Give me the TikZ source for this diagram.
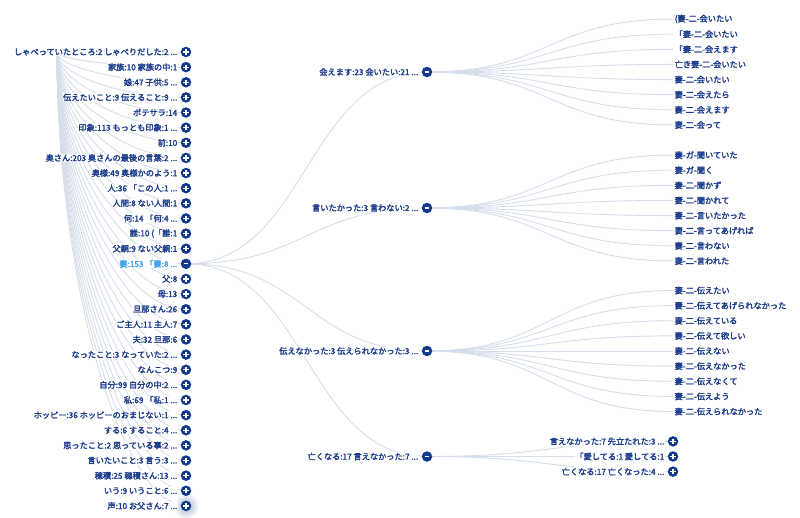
\documentclass[tikz,border=0pt]{standalone}
\usepackage{fontspec}
\setmainfont{Noto Sans CJK JP}[AutoFakeBold=2.4]
\usetikzlibrary{backgrounds}
\definecolor{navy}{HTML}{123A8C}
\definecolor{txt}{HTML}{1C3D8E}
\definecolor{hl}{HTML}{3FA2E8}
\definecolor{lnk}{HTML}{D6DEEB}
\newcommand\mydots{...}
\begin{document}
\begin{tikzpicture}[x=1pt,y=-1pt,
  font=\bfseries\fontsize{8.2}{9}\selectfont,
  nd/.style={circle, fill=navy, minimum size=10.5pt, inner sep=0pt},
  plusnd/.style={nd, path picture={\draw[white,line width=1.2pt]
      ([xshift=-2.6pt]path picture bounding box.center) -- ([xshift=2.6pt]path picture bounding box.center)
      ([yshift=-2.6pt]path picture bounding box.center) -- ([yshift=2.6pt]path picture bounding box.center);}},
  minusnd/.style={nd, path picture={\draw[white,line width=1.2pt]
      ([xshift=-2.4pt]path picture bounding box.center) -- ([xshift=2.4pt]path picture bounding box.center);}},
  lbl/.style={text=txt, fill=white, inner sep=0.6pt, anchor=east},
  leaf/.style={text=txt, inner sep=1.5pt, anchor=west},
  link/.style={draw=lnk, line width=0.9pt}]
\useasboundingbox (0,0) rectangle (800,517);
\coordinate (root) at (57,52);
% left column
\foreach \t [count=\i] in {
  {しゃべっていたところ:2 しゃべりだした:2 \mydots},
  {家族:10 家族の中:1},
  {娘:47 子供:5 \mydots},
  {伝えたいこと:9 伝えること:9 \mydots},
  {ポテサラ:14},
  {印象:113 もっとも印象:1 \mydots},
  {前:10},
  {奥さん:203 奥さんの最後の言葉:2 \mydots},
  {奥様:49 奥様かのよう:1},
  {人:36 「この人:1 \mydots},
  {人間:8 ない人間:1},
  {何:14 「何:4 \mydots},
  {誰:10 (「誰:1},
  {父親:9 ない父親:1},
  {妻:153 「妻:8 \mydots},
  {父:8},
  {母:13},
  {旦那さん:26},
  {ご主人:11 主人:7},
  {夫:32 旦那:6},
  {なったこと:3 なっていた:2 \mydots},
  {なんこつ:9},
  {自分:99 自分の中:2 \mydots},
  {私:69 「私:1 \mydots},
  {ホッピー:36 ホッピーのおまじない:1 \mydots},
  {する:6 すること:4 \mydots},
  {思ったこと:2 思っている事:2 \mydots},
  {言いたいこと:3 言う:3 \mydots},
  {穂積:25 穂積さん:13 \mydots},
  {いう:9 いうこと:6 \mydots},
  {声:10 お父さん:7 \mydots}} {
  \pgfmathsetmacro\yy{52+(\i-1)*15.13}
  \ifnum\i=15
    \node[minusnd] (l\i) at (186,\yy) {};
    \node[lbl, text=hl] at ([xshift=-2.5pt]l\i.west) {\t};
  \else
    \node[plusnd] (l\i) at (186,\yy) {};
    \node[lbl] at ([xshift=-2.5pt]l\i.west) {\t};
  \fi
}
% middle column
\node[minusnd] (m1) at (427,72) {};
\node[lbl] at ([xshift=-2.5pt]m1.west) {会えます:23 会いたい:21 ...};
\node[minusnd] (m2) at (427,208) {};
\node[lbl] at ([xshift=-2.5pt]m2.west) {言いたかった:3 言わない:2 ...};
\node[minusnd] (m3) at (427,351) {};
\node[lbl] at ([xshift=-2.5pt]m3.west) {伝えなかった:3 伝えられなかった:3 ...};
\node[minusnd] (m4) at (427,456.5) {};
\node[lbl] at ([xshift=-2.5pt]m4.west) {亡くなる:17 言えなかった:7 ...};
% leaves
\foreach \t [count=\i] in {{(妻-二-会いたい}, {「妻-二-会いたい}, {「妻-二-会えます}, {亡き妻-二-会いたい},
  {妻-二-会いたい}, {妻-二-会えたら}, {妻-二-会えます}, {妻-二-会って}} {
  \pgfmathsetmacro\yy{72+(\i-4.5)*15.13}
  \node[leaf] (a\i) at (673,\yy) {\t};
}
\foreach \t [count=\i] in {{妻-ガ-聞いていた}, {妻-ガ-聞く}, {妻-二-聞かず}, {妻-二-聞かれて},
  {妻-二-言いたかった}, {妻-二-言ってあげれば}, {妻-二-言わない}, {妻-二-言われた}} {
  \pgfmathsetmacro\yy{208+(\i-4.5)*15.13}
  \node[leaf] (b\i) at (673,\yy) {\t};
}
\foreach \t [count=\i] in {{妻-二-伝えたい}, {妻-二-伝えてあげられなかった}, {妻-二-伝えている},
  {妻-二-伝えて欲しい}, {妻-二-伝えない}, {妻-二-伝えなかった}, {妻-二-伝えなくて}, {妻-二-伝えよう},
  {妻-二-伝えられなかった}} {
  \pgfmathsetmacro\yy{351+(\i-5)*15.13}
  \node[leaf] (c\i) at (673,\yy) {\t};
}
\foreach \t [count=\i] in {{言えなかった:7 先立たれた:3 \mydots}, {「愛してる:1 愛してる:1}, {亡くなる:17 亡くなった:4 \mydots}} {
  \pgfmathsetmacro\yy{456.5+(\i-2)*15.13}
  \node[plusnd] (d\i) at (673,\yy) {};
  \node[lbl] at ([xshift=-2.5pt]d\i.west) {\t};
}
\begin{pgfonlayer}{background}
  \fill[white] (0,0) rectangle (800,517);
  \foreach \i in {1,...,31} {
    \pgfmathsetmacro\yy{52+(\i-1)*15.13}
    \pgfmathsetmacro\ym{(52+\yy)/2}
    \draw[link] (root) .. controls (57,\ym) and (121.5,\yy) .. (l\i.center);
  }
  \foreach \j/\y in {1/72, 2/208, 3/351, 4/456.5}
    \draw[link] (l15.center) .. controls (306.5,263.8) and (306.5,\y) .. (m\j.center);
  \foreach \i in {1,...,8} {
    \pgfmathsetmacro\yy{72+(\i-4.5)*15.13}
    \draw[link] (m1.center) .. controls (549.5,72) and (549.5,\yy) .. (a\i.west);
    \pgfmathsetmacro\yy{208+(\i-4.5)*15.13}
    \draw[link] (m2.center) .. controls (549.5,208) and (549.5,\yy) .. (b\i.west);
  }
  \foreach \i in {1,...,9} {
    \pgfmathsetmacro\yy{351+(\i-5)*15.13}
    \draw[link] (m3.center) .. controls (549.5,351) and (549.5,\yy) .. (c\i.west);
  }
  \foreach \i in {1,2,3} {
    \pgfmathsetmacro\yy{456.5+(\i-2)*15.13}
    \draw[link] (m4.center) .. controls (550,456.5) and (550,\yy) .. (d\i.center);
  }
  \shade[inner color=navy!40, outer color=white] (l31.center) circle (13pt);
\end{pgfonlayer}
\end{tikzpicture}
\end{document}
